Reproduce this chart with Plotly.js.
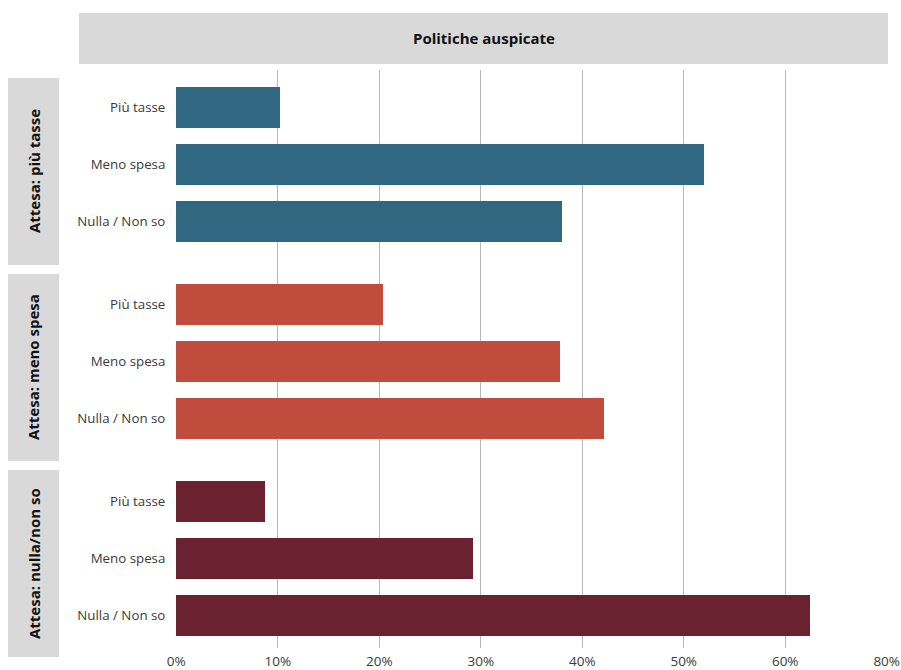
<!DOCTYPE html>
<html>
<head>
<meta charset="utf-8">
<script src="https://cdn.plot.ly/plotly-3.0.1.min.js"></script>
<style>html,body{margin:0;padding:0;background:#fff;}#chart{width:901px;height:670px;}</style>
</head>
<body>
<div id="chart"></div>
<script>
// ---- data ----
const categories = ['Più tasse', 'Meno spesa', 'Nulla / Non so'];
const groups = ['Attesa: più tasse', 'Attesa: meno spesa', 'Attesa: nulla/non so'];
const header = 'Politiche auspicate';
const valuesPiuTasse = [10.2, 52.0, 38.0];
const valuesMenoSpesa = [20.4, 37.8, 42.1];
const valuesNulla = [8.7, 29.2, 62.4];
const groupColors = ['#306882', '#c04c3d', '#6b2230'];
const xTickVals = [0, 10, 20, 30, 40, 50, 60, 70];
const xTickText = ['0%', '10%', '20%', '30%', '40%', '50%', '60%', '80%'];

// ---- layout geometry ----
const W = 901, H = 670;
const M = {l: 176, r: 14, t: 70, b: 22};
const PW = W - M.l - M.r, PH = H - M.t - M.b;
const px = x => (x - M.l) / PW;
const py = y => 1 - (y - M.t) / PH;

const groupGap = 0.452;
const pos = (g, i) => g * (categories.length + groupGap) + i;
const allValues = [valuesPiuTasse, valuesMenoSpesa, valuesNulla];

const traces = allValues.map((vals, g) => ({
  type: 'bar',
  orientation: 'h',
  x: vals,
  y: categories.map((c, i) => pos(g, i)),
  width: 0.72,
  marker: {color: groupColors[g]},
  name: groups[g],
  hoverinfo: 'x+text',
  text: categories,
  textposition: 'none'
}));

const tickVals = [], tickText = [];
groups.forEach((g, gi) => categories.forEach((c, i) => { tickVals.push(pos(gi, i)); tickText.push(c); }));

const font = 'Open Sans, Lato, sans-serif';
const shapes = [
  {type: 'rect', xref: 'paper', yref: 'paper', x0: px(79), x1: px(888), y0: py(13), y1: py(64),
   fillcolor: '#d9d9d9', line: {width: 0}, layer: 'below'}
];
const annotations = [
  {xref: 'paper', yref: 'paper', x: px(483.5), y: py(38), text: '<b>' + header + '</b>', showarrow: false,
   font: {family: font, size: 15, color: '#111111'}, xanchor: 'center', yanchor: 'middle'}
];
const strips = [[78, 265], [274, 461], [470, 657]];
strips.forEach((s, i) => {
  shapes.push({type: 'rect', xref: 'paper', yref: 'paper', x0: px(8), x1: px(59), y0: py(s[0]), y1: py(s[1]),
    fillcolor: '#d9d9d9', line: {width: 0}, layer: 'below'});
  annotations.push({xref: 'paper', yref: 'paper', x: px(33.5), y: py((s[0] + s[1]) / 2), text: '<b>' + groups[i] + '</b>',
    showarrow: false, textangle: -90, font: {family: font, size: 15, color: '#111111'}, xanchor: 'center', yanchor: 'middle'});
});

const layout = {
  width: W, height: H,
  margin: M,
  paper_bgcolor: '#ffffff', plot_bgcolor: '#ffffff',
  showlegend: false,
  bargap: 0,
  font: {family: font, size: 13, color: '#3a3a3a'},
  xaxis: {
    range: [-0.03, 70.03], tickvals: xTickVals, ticktext: xTickText,
    showgrid: true, gridcolor: '#b8b8b8', gridwidth: 1.4, zeroline: false, showline: false,
    ticks: 'outside', ticklen: 1, tickcolor: 'rgba(0,0,0,0)',
    tickfont: {family: font, size: 13.5, color: '#3a3a3a'}, fixedrange: true
  },
  yaxis: {
    range: [9.48, -0.658], autorange: false, tickvals: tickVals, ticktext: tickText,
    showgrid: false, zeroline: false, showline: false,
    ticks: 'outside', ticklen: 7, tickcolor: 'rgba(0,0,0,0)',
    tickfont: {family: font, size: 13.3, color: '#3a3a3a'}, fixedrange: true
  },
  shapes: shapes,
  annotations: annotations
};

Plotly.newPlot('chart', traces, layout, {displayModeBar: false, staticPlot: true});
</script>
</body>
</html>
